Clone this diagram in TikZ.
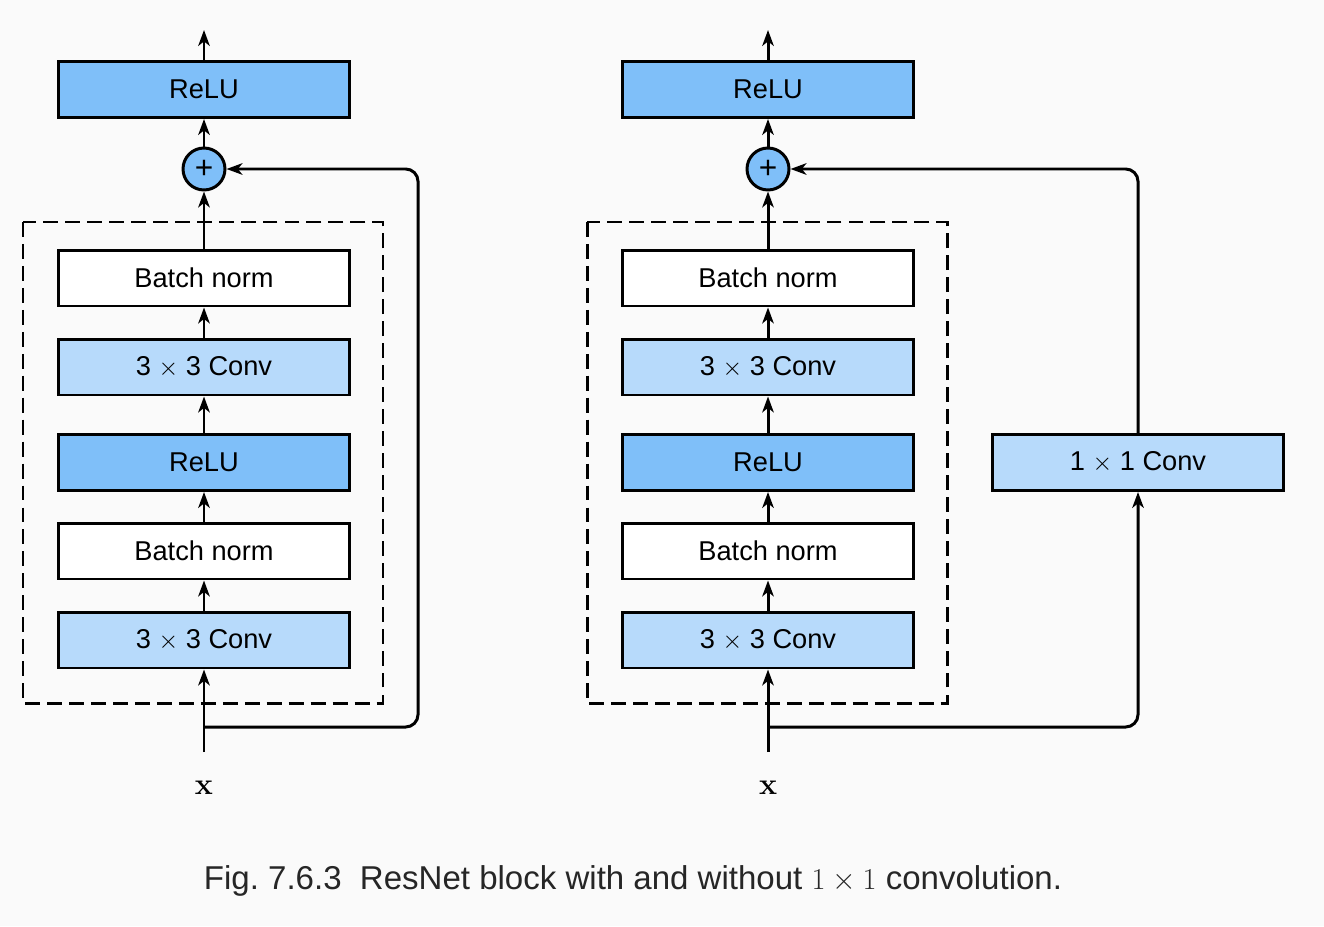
\documentclass[tikz,border=0pt]{standalone}
\usepackage[no-math]{fontspec}
\setmainfont{Liberation Sans}
\usepackage{tikz}
\usetikzlibrary{positioning,arrows.meta}
\usepackage{xcolor}
\definecolor{bgcol}{HTML}{FAFAFA}
\definecolor{relublue}{HTML}{7FBFF9}
\definecolor{convblue}{HTML}{B7DAFB}
\definecolor{captiongray}{HTML}{262626}

\tikzset{
  layer/.style={draw, line width=1.7pt, minimum width=5.84cm, minimum height=1.12cm, inner sep=0pt, font=\fontsize{15.5}{18}\selectfont},
  relubox/.style={layer, fill=relublue},
  convbox/.style={layer, fill=convblue},
  normbox/.style={layer, fill=white},
  addnode/.style={circle, draw, line width=1.7pt, fill=relublue, minimum size=0.84cm, inner sep=0pt, font=\fontsize{18}{18}\selectfont},
  flow/.style={-{Stealth[length=9pt,width=6.5pt,inset=2.5pt]}, line width=1.7pt},
  skip/.style={flow, rounded corners=7pt},
  blockbox/.style={line width=1.7pt, dash pattern=on 8.5pt off 4pt}
}

\begin{document}
\begin{tikzpicture}[x=0.02cm, y=-0.02cm]
                % Canvas
                \fill[bgcol] (0,0) rectangle (1324,926);
                \useasboundingbox (0,0) rectangle (1324,926);

                % Left: block without 1x1 conv
                \draw[blockbox] (23,222) rectangle (383,703);
                \node[relubox] (lrelu2) at (204,89.5) {ReLU};
                \node[addnode] (ladd) at (204,169) {+};
                \node[normbox] (lbn2) at (204,278) {Batch norm};
                \node[convbox] (lconv2) at (204,367) {3 $\times$ 3 Conv};
                \node[relubox] (lrelu1) at (204,462.5) {ReLU};
                \node[normbox] (lbn1) at (204,551) {Batch norm};
                \node[convbox] (lconv1) at (204,640) {3 $\times$ 3 Conv};
                \node[font=\fontsize{17}{17}\selectfont] (lx) at (204,788) {$\mathbf{x}$};
                \coordinate (lin) at (204,752);
                \coordinate (lsplit) at (204,727);
                \coordinate (lturn) at (418,0);
                \coordinate (lout) at (204,30);

                \draw[flow] (lin) -- (lconv1);
                \draw[flow] (lconv1) -- (lbn1);
                \draw[flow] (lbn1) -- (lrelu1);
                \draw[flow] (lrelu1) -- (lconv2);
                \draw[flow] (lconv2) -- (lbn2);
                \draw[flow] (lbn2) -- (ladd);
                \draw[flow] (ladd) -- (lrelu2);
                \draw[flow] (lrelu2) -- (lout);
                \draw[skip] (lsplit) -- (lsplit -| lturn) -- (ladd -| lturn) -- (ladd);

                % Right: block with 1x1 conv
                \draw[blockbox] (587,222) rectangle (947,703);
                \node[relubox] (rrelu2) at (768,89.5) {ReLU};
                \node[addnode] (radd) at (768,169) {+};
                \node[normbox] (rbn2) at (768,278) {Batch norm};
                \node[convbox] (rconv2) at (768,367) {3 $\times$ 3 Conv};
                \node[relubox] (rrelu1) at (768,462.5) {ReLU};
                \node[normbox] (rbn1) at (768,551) {Batch norm};
                \node[convbox] (rconv1) at (768,640) {3 $\times$ 3 Conv};
                \node[convbox] (rconvs) at (1138,462.5) {1 $\times$ 1 Conv};
                \node[font=\fontsize{17}{17}\selectfont] (rx) at (768,788) {$\mathbf{x}$};
                \coordinate (rin) at (768,752);
                \coordinate (rsplit) at (768,727);
                \coordinate (rout) at (768,30);

                \draw[flow] (rin) -- (rconv1);
                \draw[flow] (rconv1) -- (rbn1);
                \draw[flow] (rbn1) -- (rrelu1);
                \draw[flow] (rrelu1) -- (rconv2);
                \draw[flow] (rconv2) -- (rbn2);
                \draw[flow] (rbn2) -- (radd);
                \draw[flow] (radd) -- (rrelu2);
                \draw[flow] (rrelu2) -- (rout);
                \draw[skip] (rsplit) -- (rsplit -| rconvs) -- (rconvs);
                \draw[skip] (rconvs) -- (radd -| rconvs) -- (radd);

                % Caption
                \node[text=captiongray, font=\fontsize{18.8}{21}\selectfont] (caption) at (633,881) {Fig.\ 7.6.3\ \ ResNet block with and without $1\times 1$ convolution.};
\end{tikzpicture}
\end{document}
